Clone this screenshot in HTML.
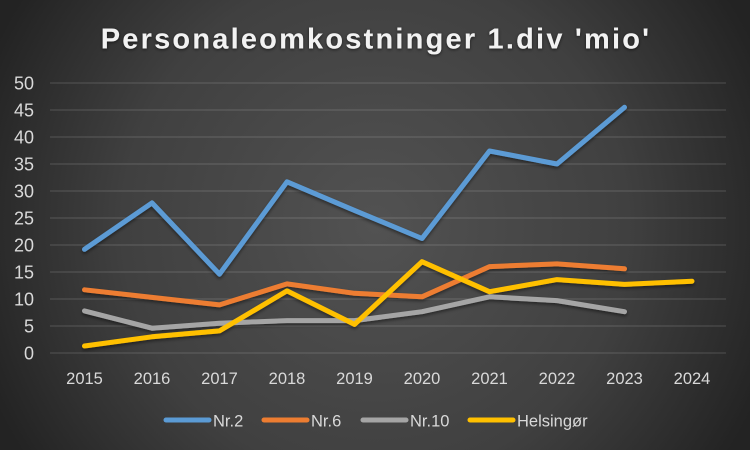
<!DOCTYPE html>
<html><head><meta charset="utf-8">
<style>
html,body{margin:0;padding:0;}
body{width:750px;height:450px;overflow:hidden;background:#2a2a2a;}
svg{display:block;}
text{font-family:"Liberation Sans",sans-serif;}
</style></head>
<body>
<svg width="750" height="450" viewBox="0 0 750 450" xmlns="http://www.w3.org/2000/svg">
<defs>
<radialGradient id="bg" cx="375" cy="225" r="420" gradientUnits="userSpaceOnUse">
<stop offset="0" stop-color="#525252"/>
<stop offset="0.6" stop-color="#404040"/>
<stop offset="1" stop-color="#232323"/>
</radialGradient>
<filter id="sh" x="-10%" y="-10%" width="120%" height="130%">
<feDropShadow dx="0" dy="2" stdDeviation="1.5" flood-color="#000" flood-opacity="0.45"/>
</filter>
<filter id="tsh" x="-10%" y="-30%" width="120%" height="160%">
<feDropShadow dx="0" dy="1" stdDeviation="1.5" flood-color="#000" flood-opacity="0.6"/>
</filter>
</defs>
<rect width="750" height="450" fill="url(#bg)"/>
<text x="376" y="48.5" text-anchor="middle" font-size="29" font-weight="bold" fill="#f2f2f2" letter-spacing="2.2" filter="url(#tsh)">Personaleomkostninger 1.div 'mio'</text>
<g stroke="#ffffff" stroke-opacity="0.14" stroke-width="1.3">
<line x1="50" y1="83" x2="726" y2="83"/>
<line x1="50" y1="110" x2="726" y2="110"/>
<line x1="50" y1="137" x2="726" y2="137"/>
<line x1="50" y1="164" x2="726" y2="164"/>
<line x1="50" y1="191" x2="726" y2="191"/>
<line x1="50" y1="218" x2="726" y2="218"/>
<line x1="50" y1="245" x2="726" y2="245"/>
<line x1="50" y1="272" x2="726" y2="272"/>
<line x1="50" y1="299" x2="726" y2="299"/>
<line x1="50" y1="326" x2="726" y2="326"/>
<line x1="50" y1="353" x2="726" y2="353"/>
</g>
<g font-size="18" fill="#d9d9d9" text-anchor="end">
<text x="34" y="89.5">50</text>
<text x="34" y="116.5">45</text>
<text x="34" y="143.5">40</text>
<text x="34" y="170.5">35</text>
<text x="34" y="197.5">30</text>
<text x="34" y="224.5">25</text>
<text x="34" y="251.5">20</text>
<text x="34" y="278.5">15</text>
<text x="34" y="305.5">10</text>
<text x="34" y="332.5">5</text>
<text x="34" y="359.5">0</text>
</g>
<g font-size="16.5" fill="#d9d9d9" text-anchor="middle">
<text x="84.5" y="384">2015</text>
<text x="152" y="384">2016</text>
<text x="219.5" y="384">2017</text>
<text x="287" y="384">2018</text>
<text x="354.5" y="384">2019</text>
<text x="422" y="384">2020</text>
<text x="489.5" y="384">2021</text>
<text x="557" y="384">2022</text>
<text x="624.5" y="384">2023</text>
<text x="692" y="384">2024</text>
</g>
<g fill="none" stroke-width="5" stroke-linecap="round" stroke-linejoin="round" filter="url(#sh)">
<polyline stroke="#5B9BD5" points="84.5,249.3 152,202.9 219.5,274.2 287,181.8 354.5,210.4 422,238.5 489.5,151 557,164 624.5,107.3"/>
<polyline stroke="#ED7D31" points="84.5,289.8 152,297.4 219.5,304.9 287,283.9 354.5,293.3 422,296.8 489.5,266.6 557,263.9 624.5,268.8"/>
<polyline stroke="#A5A5A5" points="84.5,310.9 152,328.2 219.5,323.3 287,320.6 354.5,320.6 422,311.7 489.5,296.8 557,300.6 624.5,311.7"/>
<polyline stroke="#FFC000" points="84.5,346 152,336.8 219.5,330.9 287,290.9 354.5,324.4 422,261.7 489.5,291.7 557,279.6 624.5,284.4 692,281.2"/>
</g>
<g stroke-width="5" stroke-linecap="round">
<line x1="166" y1="420" x2="209" y2="420" stroke="#5B9BD5"/>
<line x1="264" y1="420" x2="307" y2="420" stroke="#ED7D31"/>
<line x1="363" y1="420" x2="406" y2="420" stroke="#A5A5A5"/>
<line x1="470" y1="420" x2="513" y2="420" stroke="#FFC000"/>
</g>
<g font-size="16.5" fill="#d9d9d9">
<text x="213" y="426.5">Nr.2</text>
<text x="311" y="426.5">Nr.6</text>
<text x="410" y="426.5">Nr.10</text>
<text x="517" y="426.5">Helsingør</text>
</g>
</svg>
</body></html>
